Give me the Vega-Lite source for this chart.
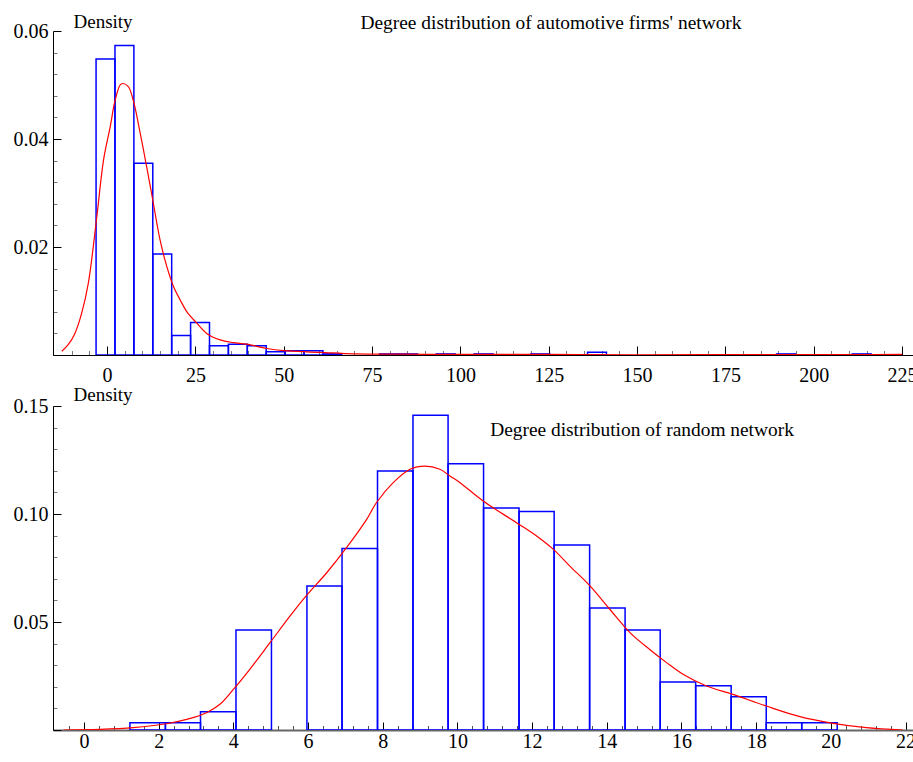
{
  "$schema": "https://vega.github.io/schema/vega-lite/v6.json",
  "background": "white",
  "padding": {"left": 13, "top": 12, "right": 0, "bottom": 0},
  "config": {
    "view": {"stroke": null},
    "font": "Liberation Serif",
    "axis": {"labelFont": "Liberation Serif", "labelFontSize": 20, "labelColor": "black", "domainColor": "black", "grid": false, "labelFlush": false, "labelOverlap": false, "titleFont": "Liberation Serif", "titleFontWeight": "normal", "titleFontSize": 19, "titleColor": "black"},
    "title": {"font": "Liberation Serif", "fontSize": 19.4, "fontWeight": "normal", "color": "black"}
  },
  "datasets": {
    "histTop": [
      {"x": -3.11, "xe": 2.24, "y": 0.0548},
      {"x": 2.24, "xe": 7.59, "y": 0.0573},
      {"x": 7.59, "xe": 12.94, "y": 0.0355},
      {"x": 12.94, "xe": 18.29, "y": 0.0187},
      {"x": 18.29, "xe": 23.64, "y": 0.0036},
      {"x": 23.64, "xe": 28.99, "y": 0.0060},
      {"x": 28.99, "xe": 34.34, "y": 0.0017},
      {"x": 34.34, "xe": 39.69, "y": 0.0020},
      {"x": 39.69, "xe": 45.04, "y": 0.0017},
      {"x": 45.04, "xe": 50.39, "y": 0.0006},
      {"x": 50.39, "xe": 55.74, "y": 0.0008},
      {"x": 55.74, "xe": 61.09, "y": 0.0008},
      {"x": 61.09, "xe": 66.44, "y": 0.0002},
      {"x": 77.14, "xe": 82.49, "y": 0.0002},
      {"x": 82.49, "xe": 87.84, "y": 0.0002},
      {"x": 93.19, "xe": 98.54, "y": 0.0002},
      {"x": 103.89, "xe": 109.24, "y": 0.0002},
      {"x": 119.94, "xe": 125.29, "y": 0.0002},
      {"x": 135.99, "xe": 141.34, "y": 0.0005},
      {"x": 189.49, "xe": 194.84, "y": 0.0002},
      {"x": 210.89, "xe": 216.24, "y": 0.0002}
    ],
    "curveTop": [
      {"x": -12.8, "y": 0.0007}, {"x": -11.0, "y": 0.0019}, {"x": -9.1, "y": 0.0040},
      {"x": -7.2, "y": 0.0077}, {"x": -5.3, "y": 0.0133}, {"x": -2.9, "y": 0.0256},
      {"x": -1.0, "y": 0.0361}, {"x": 0.9, "y": 0.0423}, {"x": 2.3, "y": 0.0472},
      {"x": 4.0, "y": 0.0502}, {"x": 5.9, "y": 0.0498}, {"x": 7.4, "y": 0.0472},
      {"x": 9.4, "y": 0.0410}, {"x": 11.2, "y": 0.0349}, {"x": 13.1, "y": 0.0281},
      {"x": 15.0, "y": 0.0213}, {"x": 16.9, "y": 0.0164}, {"x": 18.8, "y": 0.0127},
      {"x": 20.7, "y": 0.0102}, {"x": 22.6, "y": 0.0080}, {"x": 25.4, "y": 0.0059},
      {"x": 28.2, "y": 0.0040}, {"x": 32.0, "y": 0.0028}, {"x": 35.7, "y": 0.0023},
      {"x": 39.5, "y": 0.0020}, {"x": 45.2, "y": 0.0012}, {"x": 49.9, "y": 0.0008},
      {"x": 60.3, "y": 0.0005}, {"x": 70, "y": 0.0002}, {"x": 85, "y": 0.00015},
      {"x": 100, "y": 0.0001}, {"x": 125, "y": 0.0001}, {"x": 150, "y": 0.00005},
      {"x": 190, "y": 0.00008}, {"x": 212, "y": 0.00008}, {"x": 225, "y": 0.0001}
    ],
    "histBot": [
      {"x": 1.23, "xe": 2.18, "y": 0.0034},
      {"x": 2.18, "xe": 3.12, "y": 0.0034},
      {"x": 3.12, "xe": 4.07, "y": 0.0085},
      {"x": 4.07, "xe": 5.02, "y": 0.0463},
      {"x": 5.97, "xe": 6.91, "y": 0.0667},
      {"x": 6.91, "xe": 7.86, "y": 0.0840},
      {"x": 7.86, "xe": 8.81, "y": 0.1199},
      {"x": 8.81, "xe": 9.75, "y": 0.1457},
      {"x": 9.75, "xe": 10.70, "y": 0.1233},
      {"x": 10.70, "xe": 11.65, "y": 0.1028},
      {"x": 11.65, "xe": 12.59, "y": 0.1011},
      {"x": 12.59, "xe": 13.54, "y": 0.0856},
      {"x": 13.54, "xe": 14.49, "y": 0.0565},
      {"x": 14.49, "xe": 15.43, "y": 0.0463},
      {"x": 15.43, "xe": 16.38, "y": 0.0222},
      {"x": 16.38, "xe": 17.33, "y": 0.0205},
      {"x": 17.33, "xe": 18.27, "y": 0.0154},
      {"x": 18.27, "xe": 19.22, "y": 0.0034},
      {"x": 19.22, "xe": 20.17, "y": 0.0034}
    ],
    "curveBot": [
      {"x": -0.55, "y": 0.0}, {"x": 0.43, "y": 0.0003}, {"x": 1.32, "y": 0.0011},
      {"x": 2.21, "y": 0.0029}, {"x": 2.75, "y": 0.0049}, {"x": 3.28, "y": 0.0080},
      {"x": 3.64, "y": 0.0119}, {"x": 4.0, "y": 0.0188}, {"x": 4.44, "y": 0.0281},
      {"x": 4.98, "y": 0.0404}, {"x": 5.52, "y": 0.0528}, {"x": 5.96, "y": 0.0623},
      {"x": 6.50, "y": 0.0728}, {"x": 7.03, "y": 0.0844}, {"x": 7.57, "y": 0.0975},
      {"x": 7.83, "y": 0.1052}, {"x": 8.28, "y": 0.1145}, {"x": 8.73, "y": 0.1207},
      {"x": 9.13, "y": 0.1222}, {"x": 9.53, "y": 0.1207}, {"x": 9.80, "y": 0.1176},
      {"x": 10.07, "y": 0.1145}, {"x": 10.69, "y": 0.1060}, {"x": 11.58, "y": 0.0960},
      {"x": 12.12, "y": 0.0898}, {"x": 12.57, "y": 0.0836}, {"x": 13.01, "y": 0.0759},
      {"x": 13.55, "y": 0.0667}, {"x": 14.08, "y": 0.0559}, {"x": 14.62, "y": 0.0451},
      {"x": 15.15, "y": 0.0373}, {"x": 15.60, "y": 0.0312}, {"x": 16.04, "y": 0.0258},
      {"x": 16.67, "y": 0.0204}, {"x": 17.38, "y": 0.0165}, {"x": 18.27, "y": 0.0111},
      {"x": 19.17, "y": 0.0062}, {"x": 20.06, "y": 0.0031}, {"x": 20.95, "y": 0.0011},
      {"x": 21.93, "y": 0.0}
    ]
  },
  "vconcat": [
    {
      "width": 860,
      "height": 324,
      "title": {"text": "Degree distribution of automotive firms' network", "anchor": "start", "align": "center", "dx": 498, "dy": 40, "offset": 4, "baseline": "alphabetic", "frame": "group"},
      "encoding": {
        "x": {"field": "x", "type": "quantitative", "scale": {"domain": [-15.3, 228.1], "nice": false, "zero": false},
          "axis": {"title": null, "labelOverlap": false, "labelFlush": false,
            "values": [-10,-5,0,5,10,15,20,25,30,35,40,45,50,55,60,65,70,75,80,85,90,95,100,105,110,115,120,125,130,135,140,145,150,155,160,165,170,175,180,185,190,195,200,205,210,215,220,225],
            "labelExpr": "datum.value % 25 === 0 ? format(datum.value, 'd') : ''",
            "tickSize": {"condition": {"test": "datum.value % 25 === 0", "value": -9}, "value": -4.5},
            "tickColor": {"condition": {"test": "datum.value % 25 === 0", "value": "black"}, "value": "#777777"},
            "labelPadding": 19}},
        "y": {"field": "y", "type": "quantitative", "scale": {"domain": [0, 0.06], "nice": false},
          "axis": {"title": "Density", "labelOverlap": false, "titleAngle": 0, "titleAlign": "left", "titleBaseline": "alphabetic", "titleX": 20, "titleY": -4,
            "values": [0,0.004,0.008,0.012,0.016,0.02,0.024,0.028,0.032,0.036,0.04,0.044,0.048,0.052,0.056,0.06],
            "labelExpr": "datum.value > 0.001 && abs(datum.value/0.02 - round(datum.value/0.02)) < 0.001 ? format(datum.value, '.2f') : ''",
            "tickSize": {"condition": {"test": "abs(datum.value/0.02 - round(datum.value/0.02)) < 0.001", "value": -8}, "value": -4},
            "tickColor": {"condition": {"test": "abs(datum.value/0.02 - round(datum.value/0.02)) < 0.001", "value": "black"}, "value": "#777777"},
            "labelPadding": 13}}
      },
      "layer": [
        {
          "data": {"name": "histTop"},
          "mark": {"type": "rect", "fill": null, "stroke": "#0000ff", "strokeWidth": 1.5, "clip": true},
          "encoding": {
            "x2": {"field": "xe"},
            "y2": {"datum": 0}
          }
        },
        {
          "data": {"name": "curveTop"},
          "mark": {"type": "line", "color": "#ff0000", "strokeWidth": 1.2, "interpolate": "catmull-rom", "clip": true},
          "encoding": {}
        }
      ]
    },
    {
      "width": 860,
      "height": 324,
      "title": {"text": "Degree distribution of random network", "anchor": "start", "align": "center", "dx": 589, "dy": 74, "offset": 4, "baseline": "alphabetic", "frame": "group"},
      "encoding": {
        "x": {"field": "x", "type": "quantitative", "scale": {"domain": [-0.83, 22.2], "nice": false, "zero": false},
          "axis": {"title": null, "labelOverlap": false, "labelFlush": false, "domainColor": "#666666", "domainWidth": 2,
            "values": [-0.4,0,0.4,0.8,1.2,1.6,2,2.4,2.8,3.2,3.6,4,4.4,4.8,5.2,5.6,6,6.4,6.8,7.2,7.6,8,8.4,8.8,9.2,9.6,10,10.4,10.8,11.2,11.6,12,12.4,12.8,13.2,13.6,14,14.4,14.8,15.2,15.6,16,16.4,16.8,17.2,17.6,18,18.4,18.8,19.2,19.6,20,20.4,20.8,21.2,21.6,22],
            "labelExpr": "abs(datum.value/2 - round(datum.value/2)) < 0.001 ? format(datum.value, '.0f') : ''",
            "tickSize": {"condition": {"test": "abs(datum.value/2 - round(datum.value/2)) < 0.001", "value": -8}, "value": -4.5},
            "tickColor": {"condition": {"test": "abs(datum.value/2 - round(datum.value/2)) < 0.001", "value": "black"}, "value": "#555555"},
            "labelPadding": 9}},
        "y": {"field": "y", "type": "quantitative", "scale": {"domain": [0, 0.15], "nice": false},
          "axis": {"title": "Density", "labelOverlap": false, "titleAngle": 0, "titleAlign": "left", "titleBaseline": "alphabetic", "titleX": 20, "titleY": -6,
            "values": [0,0.01,0.02,0.03,0.04,0.05,0.06,0.07,0.08,0.09,0.1,0.11,0.12,0.13,0.14,0.15],
            "labelExpr": "datum.value > 0.001 && abs(datum.value/0.05 - round(datum.value/0.05)) < 0.001 ? format(datum.value, '.2f') : ''",
            "tickSize": {"condition": {"test": "abs(datum.value/0.05 - round(datum.value/0.05)) < 0.001", "value": -8}, "value": -4},
            "tickColor": {"condition": {"test": "abs(datum.value/0.05 - round(datum.value/0.05)) < 0.001", "value": "black"}, "value": "#777777"},
            "labelPadding": 13}}
      },
      "layer": [
        {
          "data": {"name": "histBot"},
          "mark": {"type": "rect", "fill": null, "stroke": "#0000ff", "strokeWidth": 1.5, "clip": true},
          "encoding": {
            "x2": {"field": "xe"},
            "y2": {"datum": 0}
          }
        },
        {
          "data": {"name": "curveBot"},
          "mark": {"type": "line", "color": "#ff0000", "strokeWidth": 1.2, "interpolate": "catmull-rom", "clip": true},
          "encoding": {}
        }
      ]
    }
  ],
  "spacing": 51,
  "bounds": "flush"
}
